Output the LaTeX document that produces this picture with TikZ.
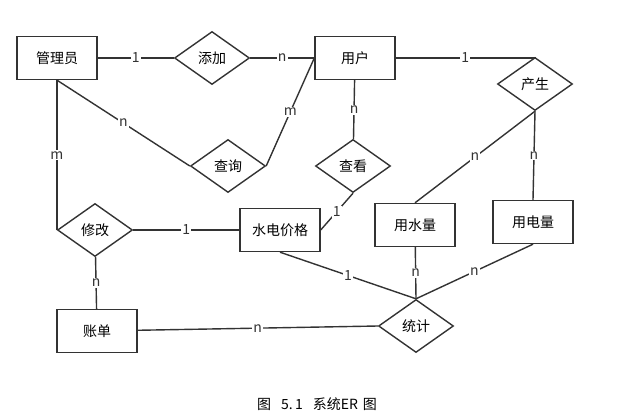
\documentclass[tikz,border=0pt]{standalone}
\usepackage{fontspec}
\setmainfont{Noto Sans CJK SC}
\usetikzlibrary{shapes.geometric}

\begin{document}
\begin{tikzpicture}[x=1pt, y=-1pt, line width=1.4pt, draw=black!80,
    entity/.style={draw=black!80, minimum width=80pt, minimum height=43pt, font=\fontsize{14}{16}\selectfont},
    rel/.style={draw=black!80, diamond, inner sep=0pt, minimum width=75pt, minimum height=53pt, font=\fontsize{14}{16}\selectfont},
    lbl/.style={fill=white, inner sep=1pt, font=\fontsize{14}{16}\selectfont, text=black!80}]
      \useasboundingbox (0,0) rectangle (637,420);
      \node[entity] (admin) at (57,58) {管理员};
      \node[rel] (add) at (212,58) {添加};
      \node[entity] (user) at (355,58) {用户};
      \node[rel] (produce) at (535,84) {产生};
      \node[rel] (query) at (228,166) {查询};
      \node[rel] (view) at (353,166) {查看};
      \node[rel] (modify) at (95,230) {修改};
      \node[entity] (price) at (280,230) {水电价格};
      \node[entity] (water) at (415,225) {用水量};
      \node[entity] (power) at (533,222) {用电量};
      \node[entity] (bill) at (97,331) {账单};
      \node[rel] (stat) at (416,326) {统计};
      \draw (admin) -- node[lbl] {1} (add);
      \draw (add) -- node[lbl] {n} (user);
      \draw (user) -- node[lbl] {1} (user.east -| produce.north) -- (produce.north);
      \draw (user) -- node[lbl] {n} (view);
      \draw (admin.south) -- node[lbl] {n} (query.west);
      \draw (query.east) -- node[lbl] {m} (user.west);
      \draw (admin.south -| modify.west) -- node[lbl] {m} (modify.west);
      \draw (modify) -- node[lbl] {1} (price);
      \draw (modify) -- node[lbl] {n} (bill);
      \draw (view.south) -- node[lbl] {1} (price.east);
      \draw (produce.south) -- node[lbl] {n} (water.north);
      \draw (produce.south) -- node[lbl] {n} (power.north);
      \draw (bill) -- node[lbl] {n} (stat.west);
      \draw (price.south) -- node[lbl] {1} (stat.north);
      \draw (water) -- node[lbl] {n} (stat.north);
      \draw (power.south) -- node[lbl] {n} (stat.north);
      \node[font=\fontsize{14}{16}\selectfont] (caption) at (317,404) {图\hspace{10pt}5.\,1\hspace{10pt}系统ER\hspace{5pt}图};
\end{tikzpicture}
\end{document}
